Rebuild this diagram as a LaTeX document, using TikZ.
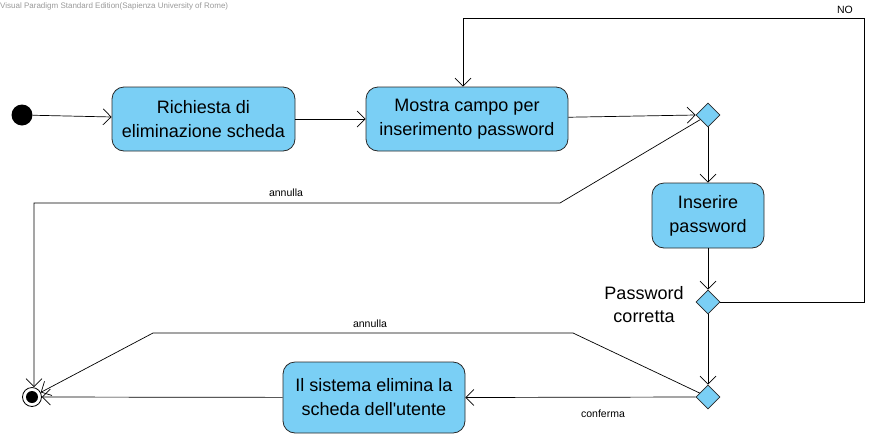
\documentclass[tikz,border=0pt]{standalone}
\usepackage{fontspec}
\setmainfont{Liberation Sans}
\usetikzlibrary{arrows.meta,shapes.geometric}
\definecolor{actfill}{RGB}{122,207,245}
\definecolor{actline}{RGB}{40,40,40}
\begin{document}
\begin{tikzpicture}[x=1pt,y=-1pt,
  act/.style={draw=actline,fill=actfill,rounded corners=12pt,align=center,
    font=\fontsize{18}{24}\selectfont,inner sep=0pt,line width=0.8pt},
  dec/.style={diamond,draw=actline,fill=actfill,minimum width=24pt,minimum height=24pt,inner sep=0pt,line width=0.7pt},
  arr/.style={-{Straight Barb[length=8pt,width=16pt,line width=0.7pt]},line width=0.7pt},
  small/.style={font=\fontsize{10.5}{12}\selectfont}]
\useasboundingbox (0,0) rectangle (870,437);
\node[anchor=north west,text=gray!80,font=\fontsize{8}{9}\selectfont,inner sep=0pt] (wm) at (0,3) {Visual Paradigm Standard Edition(Sapienza University of Rome)};
\node[circle,fill=black,minimum size=21pt,inner sep=0pt] (init) at (22,115) {};
\node[act,minimum width=183pt,minimum height=64pt] (b1) at (203.5,119) {Richiesta di\\eliminazione scheda};
\node[act,minimum width=202pt,minimum height=64pt] (b2) at (467,119) {Mostra campo per\\inserimento password};
\node[dec] (d1) at (708,115) {};
\node[act,minimum width=112pt,minimum height=65pt] (b3) at (708,215.5) {Inserire\\password};
\node[dec] (d2) at (708,302) {};
\node[dec] (d3) at (708,397) {};
\node[act,minimum width=182pt,minimum height=71pt] (b4) at (374,397.5) {Il sistema elimina la\\scheda dell\textquotesingle utente};
\node[circle,draw=black,fill=white,line width=0.8pt,minimum size=19pt,inner sep=0pt] (fin) at (32,397) {};
\node[circle,fill=black,minimum size=12pt,inner sep=0pt] (finin) at (fin.center) {};
\node[align=center,font=\fontsize{18}{23}\selectfont] (pc) at (644,305) {Password\\corretta};
\coordinate (noR) at (864,18);
\coordinate (noL) at (463,18);
\coordinate (a1) at (573,333);
\coordinate (a2) at (153,333);
\coordinate (u1) at (560,203);
\coordinate (u2) at (34,203);
\draw[arr] (init) -- (b1);
\draw[arr] (b1) -- (b2);
\draw[arr] (b2) -- (d1.west);
\draw[arr] (d1) -- (b3);
\draw[arr] (b3) -- (d2);
\draw[arr] (d2.east) -| (noR) -- (noL) -- (noL |- b2.north);
\node[small] (nolab) at (845,10) {NO};
\draw[arr] (d2) -- (d3);
\draw[arr] (d3.west) -- (b4.east);
\node[small] (conf) at (603,414) {conferma};
\draw[arr] (d3) -- (a1) -- (a2) -- (fin);
\node[small] (ann2) at (370,324) {annulla};
\draw[arr] (d1) -- (u1) -- (u2) -- (u2 |- fin.north);
\node[small] (ann1) at (286,193) {annulla};
\draw[arr] (b4) -- (fin);
\end{tikzpicture}
\end{document}
